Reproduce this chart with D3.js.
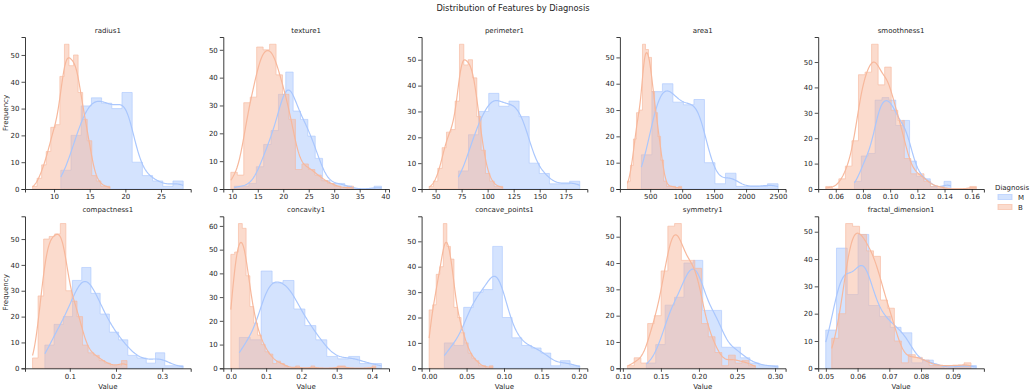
<!DOCTYPE html>
<html><head><meta charset="utf-8">
<script src="https://cdn.jsdelivr.net/npm/d3@7"></script>
<style>
body{margin:0;background:#fff}
text{font-family:"DejaVu Sans",sans-serif;fill:#262626}
</style>
</head><body>
<svg id="chart" width="1034" height="392"></svg>
<script>
// ---------------- DATA ----------------
const features = ["radius1","texture1","perimeter1","area1","smoothness1",
  "compactness1","concavity1","concave_points1","symmetry1","fractal_dimension1"];
const diagnoses = ["M","B"];

// data range (min, max) of each diagnosis per feature (bins span this range)
const mRange = [[10.95,28.11],[10.38,39.28],[71.9,188.5],[361.6,2501],[0.07371,0.1447],
  [0.04605,0.3454],[0.02398,0.4268],[0.02031,0.2012],[0.1308,0.304],[0.04996,0.09744]];
const bRange = [[6.981,17.85],[9.71,33.81],[43.79,114.6],[143.5,992.1],[0.05263,0.1634],
  [0.01938,0.2239],[0,0.4108],[0,0.08534],[0.106,0.2743],[0.05185,0.09575]];

// histogram counts (equal-width bins across each range)
const mCounts = [
  [7,20,31,34,32,30,36,10,5,3,1,3],
  [1,1,2,8,16,21,34,42,28,25,19,11,3,2,2,1,0,0,0,1],
  [7,21,30,37,32,34,28,10,6,2,2,3],
  [13,37,40,33,32,34,10,2,6,1,1,1,2],
  [3,13,14,35,36,35,25,27,11,5,4,1,0,3],
  [9,17,20,34,39,29,21,14,11,5,4,2,6,1,1],
  [13,12,41,36,37,25,18,12,5,4,5,2,2],
  [10,9,24,30,31,48,20,12,9,8,6,1,3,1],
  [2,9,24,27,40,41,22,22,8,8,4,2,1,1],
  [14,44,27,49,23,19,15,13,2,3,1,0,1,1]
];
const bCounts = [
  [1,4,9,14,23,24,42,54,46,50,36,26,18,5,3,1,1],
  [6,5,31,33,51,50,52,41,34,25,7,9,7,5,3,2,1,0,1],
  [1,3,8,16,22,23,34,56,48,50,43,28,15,6,3,1,1],
  [3,9,19,29,30,55,53,50,37,29,20,11,3,1,1,1,0,1],
  [1,0,4,9,19,45,46,57,41,48,31,27,12,6,6,3,1,1,0,0,0,0,1],
  [4,28,50,51,52,56,30,26,20,9,6,5,3,2,1,1,3],
  [48,49,61,59,39,26,19,14,10,7,6,2,3,2,1,0,0,1,0,0,0,1,0,0,0,0,0,0,1,1,0,0,0,0,0,0,0,1],
  [23,25,37,40,57,48,43,24,20,14,10,6,4,3,1,1,0,1],
  [1,4,2,17,20,37,54,55,41,41,38,17,12,6,1,5,2,3,1],
  [11,20,53,52,49,43,41,25,22,10,2,5,4,3,1,1,1,1,1,2]
];

const xTickLabels = [
  ["10","15","20","25"],
  ["10","15","20","25","30","35","40"],
  ["50","75","100","125","150","175"],
  ["500","1000","1500","2000","2500"],
  ["0.06","0.08","0.10","0.12","0.14","0.16"],
  ["0.1","0.2","0.3"],
  ["0.0","0.1","0.2","0.3","0.4"],
  ["0.00","0.05","0.10","0.15","0.20"],
  ["0.10","0.15","0.20","0.25","0.30"],
  ["0.05","0.06","0.07","0.08","0.09"]
];

const titleText = "Distribution of Features by Diagnosis";
const yLabel = "Frequency", xLabel = "Value", legendTitle = "Diagnosis";

// ---------------- LAYOUT / STYLE ----------------
const colors = {M:"#aac7fd", B:"#f7b89c"};
const colX0 = 25, colStep = 198.3, panelW = 165.7;
const rowTop = [37, 216.3], panelH = 152;
const fs = 7;

const svg = d3.select("#chart");
svg.append("rect").attr("width",1034).attr("height",392).attr("fill","#fff");

svg.append("text").attr("x",513).attr("y",11).attr("text-anchor","middle")
  .attr("font-size",8.3).text(titleText);

// Gaussian KDE of the binned data (Scott bandwidth), scaled to counts, cut at data range
function kdeCurve(counts, lo, hi){
  const n = counts.length, w = (hi-lo)/n;
  const centers = counts.map((c,i)=>lo+(i+0.5)*w);
  const N = d3.sum(counts);
  const mean = d3.sum(counts,(c,i)=>c*centers[i])/N;
  let v = d3.sum(counts,(c,i)=>c*(centers[i]-mean)**2)/(N-1) - w*w/12;
  v = Math.max(v, w*w/4);
  const h = Math.sqrt(v)*Math.pow(N,-0.2);
  const k = 1/Math.sqrt(2*Math.PI);
  return d3.range(201).map(j=>{
    const x = lo+(hi-lo)*j/200;
    const d = d3.sum(counts,(c,i)=>{const u=(x-centers[i])/h; return c*k*Math.exp(-u*u/2);})/h;
    return [x, d*w];
  });
}

features.forEach((feat,i)=>{
  const col = i%5, row = Math.floor(i/5);
  const left = colX0 + col*colStep, top = rowTop[row], bottom = top+panelH;
  const series = [
    {name:"M", range:mRange[i], counts:mCounts[i]},
    {name:"B", range:bRange[i], counts:bCounts[i]}
  ];
  const lo = Math.min(mRange[i][0], bRange[i][0]);
  const hi = Math.max(mRange[i][1], bRange[i][1]);
  const pad = (hi-lo)*0.05;
  const x = d3.scaleLinear().domain([lo-pad, hi+pad]).range([left, left+panelW]);
  const ymax = d3.max([...mCounts[i], ...bCounts[i]])*1.05;
  const y = d3.scaleLinear().domain([0, ymax]).range([bottom, top]);

  const g = svg.append("g");

  // histogram steps
  series.forEach(s=>{
    const n = s.counts.length, w = (s.range[1]-s.range[0])/n;
    const pts = s.counts.map((c,j)=>({x:s.range[0]+j*w, c}));
    pts.push({x:s.range[1], c:s.counts[n-1]});
    const area = d3.area().curve(d3.curveStepAfter)
      .x(d=>x(d.x)).y0(y(0)).y1(d=>y(d.c));
    g.append("path").attr("d", area(pts))
      .attr("fill", colors[s.name]).attr("fill-opacity",0.5)
      .attr("stroke", colors[s.name]).attr("stroke-opacity",0.6).attr("stroke-width",1);
  });
  // KDE lines
  series.forEach(s=>{
    const line = d3.line().x(d=>x(d[0])).y(d=>y(d[1]));
    g.append("path").attr("d", line(kdeCurve(s.counts, s.range[0], s.range[1])))
      .attr("fill","none").attr("stroke", colors[s.name]).attr("stroke-width",1.2);
  });

  // axes
  const xa = g.append("g").attr("transform",`translate(0,${bottom})`)
    .call(d3.axisBottom(x).tickValues(xTickLabels[i].map(Number))
      .tickFormat((d,j)=>xTickLabels[i][j]).tickSizeOuter(0).tickSize(3.5).tickPadding(2));
  const ya = g.append("g").attr("transform",`translate(${left},0)`)
    .call(d3.axisLeft(y).ticks(6).tickFormat(d3.format("d")).tickSizeOuter(0).tickSize(3.5).tickPadding(2));
  [xa,ya].forEach(a=>{
    a.selectAll("path.domain").attr("stroke","#262626").attr("stroke-width",0.9);
    a.selectAll(".tick line").attr("stroke","#262626").attr("stroke-width",0.8);
    a.selectAll(".tick text").attr("font-size",fs).attr("font-family","DejaVu Sans").attr("fill","#262626");
  });

  // panel title
  g.append("text").attr("x", left+panelW/2).attr("y", top-4)
    .attr("text-anchor","middle").attr("font-size",fs).text(feat);
  if(col===0){
    g.append("text").attr("transform",`translate(8,${(top+bottom)/2}) rotate(-90)`)
      .attr("text-anchor","middle").attr("font-size",fs).text(yLabel);
  }
  if(row===1){
    g.append("text").attr("x", left+panelW/2).attr("y", 388.5)
      .attr("text-anchor","middle").attr("font-size",fs).text(xLabel);
  }
});

// legend
const lg = svg.append("g");
lg.append("text").attr("x",995).attr("y",189.5).attr("font-size",fs).text(legendTitle);
diagnoses.forEach((d,k)=>{
  const yy = 197 + k*10;
  lg.append("rect").attr("x",998).attr("y",yy-2.5).attr("width",14).attr("height",5)
    .attr("fill",colors[d]).attr("fill-opacity",0.5)
    .attr("stroke",colors[d]).attr("stroke-opacity",0.6).attr("stroke-width",1);
  lg.append("text").attr("x",1018).attr("y",yy+2.5).attr("font-size",fs).text(d);
});
</script>
</body></html>
